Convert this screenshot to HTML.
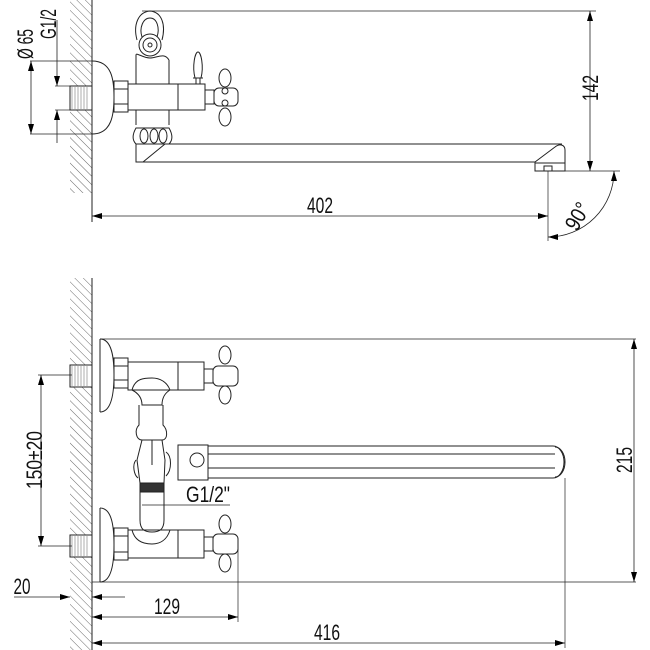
<!DOCTYPE html>
<html><head><meta charset="utf-8"><style>html,body{margin:0;padding:0;background:#fff}svg{display:block}</style></head>
<body>
<svg width="650" height="650" viewBox="0 0 650 650" xmlns="http://www.w3.org/2000/svg" font-family="Liberation Sans, sans-serif">
<defs>
<pattern id="h" width="6" height="6" patternUnits="userSpaceOnUse" patternTransform="rotate(-45)">
<line x1="0" y1="0" x2="0" y2="6" stroke="#444" stroke-width="0.8"/>
</pattern>
<marker id="a" viewBox="0 0 10 6" refX="10" refY="3" markerWidth="10" markerHeight="6" orient="auto-start-reverse" markerUnits="userSpaceOnUse"><path d="M0,0L10,3L0,6z" fill="#000"/></marker>
</defs>
<g fill="none" stroke="#222" stroke-width="1">
<!-- TOP VIEW -->
<rect x="70" y="0" width="22" height="193" fill="url(#h)" stroke="none"/>
<line x1="92" y1="0" x2="92" y2="222"/>
<path d="M92,61 C112,61 114,80 114,97 C114,114 112,134 92,134"/>
<rect x="70" y="86" width="22" height="24" fill="#fff"/>
<g stroke="#777" stroke-width="0.6"><path d="M72,87V109M75,87V109M78,87V109M81,87V109M84,87V109M87,87V109"/></g>
<line x1="30" y1="61" x2="92" y2="61" stroke-width="0.7"/>
<line x1="30" y1="134" x2="92" y2="134" stroke-width="0.7"/>
<line x1="31" y1="61" x2="31" y2="134" marker-start="url(#a)" marker-end="url(#a)" stroke-width="0.8"/>
<line x1="55" y1="86" x2="70" y2="86" stroke-width="0.7"/>
<line x1="55" y1="110" x2="70" y2="110" stroke-width="0.7"/>
<line x1="57" y1="20" x2="57" y2="86" marker-end="url(#a)" stroke-width="0.8"/>
<line x1="57" y1="143" x2="57" y2="110" marker-end="url(#a)" stroke-width="0.8"/>
<path d="M137,40 C133,25 138,12 150,11 C162,12 166,25 162,40 M142,37 C139,28 143,18 150,18 C157,18 160,28 157,37"/>
<circle cx="150" cy="45" r="11"/><circle cx="150" cy="45" r="7"/><circle cx="150" cy="45" r="2"/>
<path d="M136,55 L136,84 M169,60 L169,84 M136,55 C136,52 143,58 150,58 C157,58 164,52 169,60"/>
<rect x="114" y="81" width="14" height="31"/><line x1="114" y1="89" x2="128" y2="89"/><line x1="114" y1="104" x2="128" y2="104"/>
<rect x="128" y="84" width="50" height="26"/>
<rect x="178" y="84" width="27" height="26"/>
<rect x="205" y="90" width="9" height="14"/>
<path d="M196,84 V78 M200,84 V78 M193,78 H203 M195,78 C192,66 195,52 198,52 C201,52 204,66 201,78"/>
<rect x="214" y="88" width="24" height="18" rx="5"/>
<ellipse cx="225" cy="78" rx="6" ry="9"/><ellipse cx="225" cy="117" rx="6" ry="9"/>
<circle cx="225" cy="91" r="3"/><circle cx="225" cy="103" r="3"/>
<path d="M136,110 V125 M169,110 V125"/>
<path d="M136,128 C132,135 132,140 136,144 H169 C173,140 173,135 169,128 Z"/>
<ellipse cx="144" cy="136" rx="4" ry="7"/><ellipse cx="154" cy="136" rx="4" ry="7"/><ellipse cx="163" cy="136" rx="4" ry="7"/>
<path d="M136,144 V162 L143,162 L165,144"/>
<line x1="165" y1="144" x2="562" y2="144"/>
<line x1="140" y1="162" x2="535" y2="162"/>
<path d="M535,162 L555,147 C560,143 565,145 565,150 L565,163 H535 Z"/>
<rect x="535" y="163" width="30" height="8"/><rect x="544" y="166" width="8" height="5"/>
<line x1="142" y1="11" x2="596" y2="11" stroke-width="0.7"/>
<line x1="535" y1="171" x2="620" y2="171" stroke-width="0.7"/>
<line x1="590" y1="11" x2="590" y2="171" marker-start="url(#a)" marker-end="url(#a)" stroke-width="0.8"/>
<line x1="548" y1="171" x2="548" y2="241" stroke-width="0.7"/>
<line x1="92" y1="216" x2="548" y2="216" marker-start="url(#a)" marker-end="url(#a)" stroke-width="0.8"/>
<path d="M614,171 A66,66 0 0 1 548,237" marker-start="url(#a)" marker-end="url(#a)" stroke-width="0.8"/>

<!-- BOTTOM VIEW -->
<rect x="70" y="278" width="22" height="372" fill="url(#h)" stroke="none"/>
<line x1="92" y1="278" x2="92" y2="650"/>
<line x1="100" y1="339" x2="636" y2="339" stroke-width="0.7"/>
<line x1="92" y1="582" x2="636" y2="582" stroke-width="0.7"/>
<path d="M100,339 C112,339 114,358 114,375 C114,392 112,412 100,412"/>
<path d="M100,508 C112,508 114,527 114,545 C114,562 112,582 100,582"/>
<line x1="100" y1="339" x2="100" y2="412"/><line x1="100" y1="508" x2="100" y2="582"/>
<rect x="70" y="365" width="22" height="22" fill="#fff"/>
<rect x="70" y="535" width="22" height="22" fill="#fff"/>
<g stroke="#777" stroke-width="0.6"><path d="M72,366V386M75,366V386M78,366V386M81,366V386M84,366V386M87,366V386M72,536V556M75,536V556M78,536V556M81,536V556M84,536V556M87,536V556"/></g>
<rect x="114" y="358" width="14" height="30"/><line x1="114" y1="366" x2="128" y2="366"/><line x1="114" y1="380" x2="128" y2="380"/>
<rect x="114" y="528" width="14" height="32"/><line x1="114" y1="536" x2="128" y2="536"/><line x1="114" y1="552" x2="128" y2="552"/>
<rect x="128" y="362" width="50" height="28"/><rect x="178" y="362" width="26" height="28"/><rect x="204" y="369" width="9" height="14"/>
<rect x="128" y="530" width="50" height="28"/><rect x="178" y="530" width="26" height="28"/><rect x="204" y="537" width="9" height="14"/>
<rect x="213" y="366" width="25" height="20" rx="5"/>
<ellipse cx="225" cy="355" rx="6" ry="9"/><ellipse cx="225" cy="395" rx="6" ry="9"/>
<rect x="213" y="534" width="25" height="20" rx="5"/>
<ellipse cx="225" cy="524" rx="6" ry="9"/><ellipse cx="225" cy="563" rx="6" ry="9"/>
<path d="M132,390 C135,378 145,378 152,378 C160,378 167,382 170,390 C165,393 162,398 162,405 H142 C142,398 138,393 132,390"/>
<path d="M139,405 V425 C134,430 136,440 142,440 H162 C168,440 168,430 163,425 V405"/>
<path d="M142,440 L137,460 L140,483 H164 L165,460 L162,440"/>
<path d="M136,460 C132,465 134,475 138,478 M166,452 C172,456 172,470 166,476"/>
<line x1="152" y1="440" x2="152" y2="465"/>
<rect x="140" y="483" width="24" height="9" fill="#333"/>
<path d="M140,492 V520 C140,530 145,532 152,532 C159,532 164,530 164,520 V492"/>
<path d="M132,530 C135,542 145,544 152,544 C160,544 167,540 170,530"/>
<line x1="142" y1="505" x2="230" y2="505" stroke-width="0.7"/>
<rect x="178" y="445" width="30" height="35"/><circle cx="197" cy="460" r="7"/>
<path d="M208,446 H553 A11,16 0 0 1 553,478 H208"/>
<line x1="208" y1="454" x2="555" y2="454"/><line x1="208" y1="468" x2="555" y2="468"/>
<path d="M555,447 A10,15 0 0 1 555,477"/>
<line x1="634" y1="339" x2="634" y2="582" marker-start="url(#a)" marker-end="url(#a)" stroke-width="0.8"/>
<line x1="38" y1="375" x2="72" y2="375" stroke-width="0.7"/><line x1="38" y1="546" x2="72" y2="546" stroke-width="0.7"/>
<line x1="41" y1="375" x2="41" y2="546" marker-start="url(#a)" marker-end="url(#a)" stroke-width="0.8"/>
<line x1="14" y1="597" x2="70" y2="597" marker-end="url(#a)" stroke-width="0.8"/>
<line x1="125" y1="597" x2="92" y2="597" marker-end="url(#a)" stroke-width="0.8"/>
<line x1="238" y1="540" x2="238" y2="622" stroke-width="0.7"/>
<line x1="92" y1="617" x2="238" y2="617" marker-start="url(#a)" marker-end="url(#a)" stroke-width="0.8"/>
<line x1="565" y1="478" x2="565" y2="648" stroke-width="0.7"/>
<line x1="92" y1="643" x2="565" y2="643" marker-start="url(#a)" marker-end="url(#a)" stroke-width="0.8"/>
</g>
<g fill="#111" font-size="22">
<text transform="translate(33,44) rotate(-90)" text-anchor="middle" textLength="30" lengthAdjust="spacingAndGlyphs">Ø 65</text>
<text transform="translate(56,24) rotate(-90)" text-anchor="middle" textLength="30" lengthAdjust="spacingAndGlyphs">G1/2</text>
<text transform="translate(598,88) rotate(-90)" text-anchor="middle" textLength="26" lengthAdjust="spacingAndGlyphs">142</text>
<text x="320" y="213" text-anchor="middle" textLength="26" lengthAdjust="spacingAndGlyphs">402</text>
<text transform="translate(584,220) rotate(-60)" text-anchor="middle" textLength="28" lengthAdjust="spacingAndGlyphs">90°</text>
<text transform="translate(42,460) rotate(-90)" text-anchor="middle" textLength="58" lengthAdjust="spacingAndGlyphs">150±20</text>
<text transform="translate(632,460) rotate(-90)" text-anchor="middle" textLength="26" lengthAdjust="spacingAndGlyphs">215</text>
<text x="208" y="502" text-anchor="middle" textLength="44" lengthAdjust="spacingAndGlyphs">G1/2"</text>
<text x="22" y="594" text-anchor="middle" textLength="17" lengthAdjust="spacingAndGlyphs">20</text>
<text x="167" y="614" text-anchor="middle" textLength="26" lengthAdjust="spacingAndGlyphs">129</text>
<text x="327" y="640" text-anchor="middle" textLength="26" lengthAdjust="spacingAndGlyphs">416</text>
</g>
</svg>
</body></html>
